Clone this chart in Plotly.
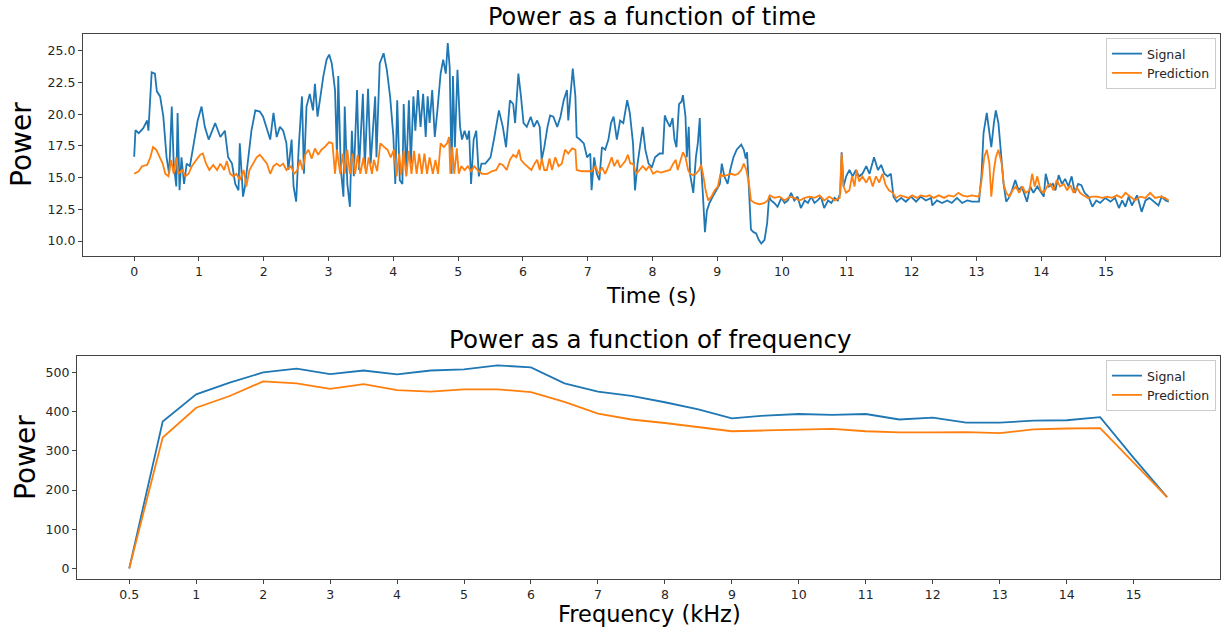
import plotly.graph_objects as go

# ---------------- data: power vs time ----------------
signal_time = [0.00,0.02,0.07,0.14,0.20,0.22,0.27,0.32,0.35,0.40,0.45,0.50,0.54,0.58,0.61,0.65,0.67,0.70,0.73,0.77,
    0.81,0.86,0.92,0.98,1.04,1.09,1.15,1.25,1.33,1.40,1.45,1.51,1.56,1.61,1.63,1.68,1.71,1.76,1.81,1.87,
    1.94,1.99,2.05,2.10,2.15,2.20,2.25,2.30,2.35,2.38,2.43,2.46,2.50,2.54,2.59,2.62,2.66,2.71,2.76,2.79,
    2.83,2.87,2.92,2.97,3.01,3.05,3.10,3.13,3.15,3.19,3.23,3.25,3.29,3.33,3.36,3.39,3.44,3.47,3.53,3.56,
    3.61,3.65,3.72,3.74,3.79,3.85,3.90,3.95,4.00,4.03,4.06,4.10,4.14,4.16,4.20,4.24,4.27,4.31,4.34,4.38,
    4.42,4.46,4.50,4.53,4.56,4.60,4.64,4.68,4.73,4.77,4.81,4.84,4.87,4.90,4.92,4.95,4.99,5.03,5.06,5.10,
    5.14,5.17,5.20,5.24,5.28,5.32,5.36,5.42,5.50,5.56,5.63,5.69,5.74,5.80,5.85,5.88,5.93,5.97,6.01,6.06,
    6.12,6.17,6.22,6.26,6.29,6.33,6.38,6.42,6.47,6.53,6.58,6.63,6.68,6.70,6.74,6.77,6.81,6.83,6.88,6.94,
    6.99,7.04,7.06,7.10,7.14,7.18,7.22,7.27,7.32,7.36,7.40,7.45,7.50,7.55,7.61,7.65,7.70,7.73,7.77,7.81,
    7.85,7.89,7.94,7.99,8.04,8.11,8.16,8.19,8.22,8.27,8.31,8.34,8.37,8.41,8.45,8.47,8.51,8.53,8.56,8.58,
    8.61,8.63,8.67,8.70,8.73,8.75,8.78,8.81,8.84,8.88,8.93,8.98,9.04,9.07,9.11,9.16,9.20,9.25,9.30,9.37,
    9.41,9.44,9.46,9.49,9.52,9.56,9.60,9.64,9.68,9.73,9.77,9.80,9.83,9.88,9.93,9.99,10.04,10.09,10.14,10.19,
    10.24,10.29,10.35,10.40,10.45,10.50,10.55,10.60,10.65,10.71,10.76,10.81,10.86,10.90,10.92,10.95,10.99,11.04,11.09,11.14,
    11.19,11.24,11.30,11.35,11.42,11.48,11.53,11.58,11.63,11.68,11.72,11.77,11.84,11.91,11.99,12.07,12.14,12.22,12.30,12.32,
    12.39,12.47,12.55,12.62,12.70,12.78,12.86,12.93,13.04,13.08,13.11,13.16,13.20,13.23,13.27,13.30,13.34,13.39,13.42,13.46,
    13.50,13.55,13.60,13.65,13.70,13.78,13.83,13.88,13.94,13.99,14.04,14.07,14.12,14.18,14.22,14.27,14.32,14.37,14.42,14.47,
    14.52,14.57,14.62,14.67,14.73,14.79,14.85,14.91,14.99,15.07,15.14,15.20,15.25,15.30,15.35,15.40,15.48,15.55,15.61,15.67,
    15.74,15.81,15.86,15.92,15.97]
signal_power = [16.65,18.75,18.5,18.9,19.5,18.7,23.3,23.2,21.8,21.4,19.8,16.6,15.3,20.6,16.1,14.3,20.1,14.0,16.6,14.5,
    16.1,15.9,17.7,19.5,20.6,19.0,18.0,19.3,18.2,18.7,16.6,16.1,14.5,14.0,17.7,13.5,14.3,16.6,18.7,20.3,
    20.2,19.8,18.7,18.0,20.1,18.2,19.0,18.7,17.7,15.6,18.0,14.3,13.1,17.4,21.4,15.3,20.6,21.6,20.3,22.4,
    19.8,21.4,23.0,24.3,24.7,24.0,21.9,16.6,23.0,15.6,13.5,20.6,14.5,12.7,18.7,15.1,21.9,15.6,21.6,15.8,
    22.0,16.1,21.4,16.6,24.0,24.8,23.5,21.4,18.3,14.5,21.1,14.8,14.5,20.8,15.3,21.1,16.1,21.4,18.7,21.9,
    19.0,21.6,18.2,21.4,19.3,21.9,18.2,20.3,23.2,24.3,23.2,25.6,23.7,15.3,23.0,17.4,23.5,19.0,18.0,18.7,
    18.0,18.7,14.5,18.0,18.7,15.1,16.1,16.1,16.6,18.2,20.3,19.0,17.4,21.1,20.8,19.3,23.2,21.4,19.3,19.0,
    19.8,19.0,19.5,19.0,16.4,17.4,19.0,19.9,19.8,19.0,19.8,21.1,21.9,19.5,21.9,23.6,21.4,18.2,18.0,17.7,
    16.6,16.9,14.0,16.6,15.3,14.8,17.4,17.2,18.0,19.3,19.8,18.0,19.5,19.3,21.1,20.1,17.7,14.0,16.1,17.7,
    19.0,17.2,16.1,15.8,16.6,16.9,16.9,19.9,19.5,19.0,19.7,18.0,17.4,20.8,21.0,21.5,19.8,16.6,19.0,15.3,
    14.5,13.8,16.6,17.7,19.7,16.1,13.5,10.7,12.4,13.0,13.5,14.0,14.5,16.1,15.1,14.5,15.6,16.6,17.2,17.6,
    17.2,16.5,17.0,14.0,10.9,10.7,10.6,10.1,9.8,10.1,11.4,13.5,13.2,13.0,12.7,13.4,13.0,13.2,13.8,13.2,
    13.5,12.6,13.2,13.0,13.5,13.0,13.2,13.5,12.6,13.2,13.0,13.4,13.2,13.8,17.0,14.3,15.1,15.6,15.1,15.6,
    15.1,15.3,15.9,15.3,16.6,15.6,16.0,15.3,15.1,15.3,13.5,13.1,13.4,13.1,13.5,13.1,13.5,13.2,13.4,12.8,
    13.2,13.0,13.2,13.0,13.4,13.0,13.2,13.1,13.1,15.3,18.5,20.1,18.7,17.4,19.3,20.3,19.3,16.6,14.5,13.1,
    13.4,14.0,14.8,14.0,14.3,13.1,14.3,13.8,14.3,13.9,13.5,15.3,14.3,14.5,14.0,15.2,14.5,14.9,14.3,15.1,
    13.8,14.5,14.4,13.8,13.5,12.7,13.2,13.0,13.4,13.1,13.4,12.6,13.2,12.7,13.5,12.8,13.6,12.3,13.2,13.4,
    13.1,12.8,13.5,13.2,13.1]

pred_time = [0.00,0.07,0.12,0.20,0.25,0.29,0.34,0.39,0.44,0.48,0.53,0.57,0.61,0.65,0.68,0.74,0.79,0.84,0.89,0.96,
    1.02,1.06,1.11,1.16,1.22,1.28,1.33,1.39,1.43,1.48,1.53,1.58,1.63,1.69,1.73,1.78,1.83,1.89,1.94,2.00,
    2.05,2.10,2.15,2.20,2.25,2.30,2.35,2.42,2.47,2.52,2.56,2.60,2.64,2.69,2.74,2.79,2.84,2.89,2.94,3.01,
    3.06,3.10,3.13,3.18,3.22,3.25,3.29,3.33,3.37,3.41,3.45,3.49,3.54,3.58,3.62,3.67,3.70,3.75,3.80,3.86,
    3.91,3.96,4.01,4.05,4.09,4.12,4.16,4.20,4.24,4.28,4.32,4.36,4.40,4.44,4.48,4.52,4.56,4.61,4.65,4.69,
    4.73,4.78,4.83,4.86,4.88,4.91,4.94,4.98,5.01,5.05,5.10,5.15,5.20,5.25,5.30,5.37,5.45,5.52,5.59,5.64,
    5.69,5.75,5.80,5.85,5.90,5.94,5.97,6.02,6.07,6.13,6.18,6.22,6.26,6.29,6.33,6.37,6.41,6.45,6.50,6.55,
    6.60,6.65,6.70,6.76,6.81,6.83,6.91,6.99,7.06,7.12,7.17,7.22,7.27,7.32,7.37,7.41,7.46,7.50,7.54,7.58,
    7.62,7.66,7.70,7.75,7.80,7.85,7.90,7.95,8.01,8.07,8.13,8.19,8.27,8.32,8.36,8.39,8.43,8.47,8.51,8.55,
    8.58,8.62,8.67,8.72,8.75,8.78,8.82,8.86,8.91,8.96,9.01,9.05,9.09,9.14,9.22,9.27,9.32,9.37,9.41,9.45,
    9.49,9.52,9.58,9.65,9.73,9.78,9.81,9.88,9.96,10.04,10.12,10.19,10.27,10.35,10.42,10.50,10.58,10.65,10.73,10.81,
    10.89,10.92,10.95,10.99,11.04,11.08,11.12,11.15,11.19,11.24,11.30,11.35,11.40,11.45,11.50,11.55,11.60,11.65,11.71,11.76,
    11.82,11.89,11.95,12.01,12.08,12.14,12.22,12.28,12.34,12.42,12.50,12.57,12.65,12.72,12.78,12.86,12.93,13.04,13.08,13.12,
    13.16,13.20,13.23,13.27,13.30,13.34,13.39,13.42,13.46,13.51,13.56,13.61,13.66,13.71,13.76,13.82,13.86,13.90,13.94,13.99,
    14.04,14.09,14.14,14.19,14.24,14.29,14.35,14.40,14.45,14.50,14.55,14.60,14.65,14.72,14.78,14.86,14.94,15.02,15.09,15.17,
    15.24,15.30,15.37,15.45,15.53,15.61,15.68,15.76,15.84,15.91,15.97]
pred_power = [15.3,15.5,15.9,16.0,16.6,17.4,17.2,16.6,16.1,15.3,15.1,16.4,15.3,16.6,15.3,15.6,15.1,15.3,15.9,16.4,
    16.8,16.9,16.1,15.6,16.0,15.6,16.1,15.6,16.3,15.3,15.1,15.3,14.8,15.6,14.3,15.6,16.1,16.6,16.8,16.4,
    16.1,15.3,15.9,16.1,15.9,16.1,15.6,15.9,15.3,15.6,16.4,15.6,16.8,17.2,16.5,17.3,16.8,17.2,17.4,17.8,
    17.7,15.3,17.2,15.3,16.9,15.3,17.2,15.3,16.9,15.3,16.8,15.3,16.6,15.3,16.6,15.3,16.4,15.5,17.7,17.4,
    17.2,16.6,17.2,15.1,16.9,15.2,17.1,15.1,17.1,15.3,17.1,15.3,16.9,15.3,16.9,15.3,16.6,15.3,16.4,15.3,
    17.7,17.4,17.7,18.2,15.3,17.4,15.3,17.3,15.3,15.9,15.6,15.9,15.5,15.9,15.6,15.3,15.3,15.5,15.6,16.1,
    16.0,15.6,16.4,16.8,16.6,17.2,16.4,16.1,15.9,15.6,16.1,16.4,15.6,16.5,15.6,15.6,16.5,15.6,16.6,15.9,
    16.1,17.2,16.9,17.3,17.2,15.6,15.5,15.5,15.5,15.9,15.3,15.8,15.3,15.9,16.6,15.9,16.4,15.8,16.1,16.3,
    16.8,16.1,16.1,15.3,15.6,15.9,15.6,15.9,15.3,15.5,15.4,15.5,15.6,16.1,16.4,15.6,16.3,17.0,16.6,15.6,
    15.3,15.2,15.3,15.6,16.0,15.3,14.0,13.2,13.5,14.0,14.3,15.3,15.1,15.2,15.3,15.2,15.3,15.6,16.1,15.6,
    14.5,13.2,13.0,12.9,13.0,13.2,13.6,13.4,13.5,13.2,13.5,13.4,13.2,13.4,13.5,13.4,13.6,13.2,13.5,13.2,
    13.4,16.9,14.3,13.8,14.0,15.1,14.3,15.6,14.7,15.1,14.6,15.1,14.3,15.1,14.6,15.3,14.4,14.0,13.8,13.4,
    13.6,13.5,13.4,13.6,13.4,13.6,13.5,13.6,13.4,13.6,13.4,13.6,13.5,13.8,13.6,13.5,13.6,13.5,14.8,16.6,
    17.2,16.1,13.5,15.6,16.6,17.2,16.1,14.5,13.8,13.5,14.0,14.3,13.8,14.3,13.8,14.0,15.3,14.3,15.1,14.0,
    13.8,14.3,14.5,14.0,14.8,14.3,14.5,14.0,14.4,13.8,14.2,13.8,13.6,13.4,13.5,13.5,13.4,13.5,13.4,13.6,
    13.4,13.8,13.5,13.2,13.5,13.4,13.8,13.4,13.5,13.4,13.2]

time_ticks = list(range(0, 16))
power_time_ticks = [10.0, 12.5, 15.0, 17.5, 20.0, 22.5, 25.0]

# ---------------- data: power vs frequency ----------------
freq_signal = [0, 375, 444, 474, 500, 510, 496, 505, 495, 505, 508, 518, 513, 472, 451, 440,
               424, 406, 383, 390, 394, 392, 394, 380, 385, 372, 372, 377, 378, 386, 282, 182]
freq_pred = [0, 334, 410, 440, 477, 472, 458, 470, 455, 451, 457, 457, 450, 425, 395, 380,
             371, 360, 350, 352, 354, 356, 350, 347, 347, 348, 345, 355, 357, 358, 270, 182]
freq_tick_labels = ["0.5", "1", "2", "3", "4", "5", "6", "7", "8", "9", "10",
                    "11", "12", "13", "14", "15"]
power_freq_ticks = [0, 100, 200, 300, 400, 500]

# ---------------- figure ----------------
W, H = 1225, 634
BLUE, ORANGE = "#1f77b4", "#ff7f0e"
FONT = "DejaVu Sans"
TXT = "#262626"

freq_idx = list(range(len(freq_signal)))
freq_tick_idx = [0] + [2 * k for k in range(1, len(freq_tick_labels))]

fig = go.Figure()
fig.add_trace(go.Scatter(x=signal_time, y=signal_power, mode="lines", name="Signal",
                         line=dict(color=BLUE, width=1.8), xaxis="x", yaxis="y", legend="legend"))
fig.add_trace(go.Scatter(x=pred_time, y=pred_power, mode="lines", name="Prediction",
                         line=dict(color=ORANGE, width=1.8), xaxis="x", yaxis="y", legend="legend"))
fig.add_trace(go.Scatter(x=freq_idx, y=freq_signal, mode="lines", name="Signal",
                         line=dict(color=BLUE, width=1.8), xaxis="x2", yaxis="y2", legend="legend2"))
fig.add_trace(go.Scatter(x=freq_idx, y=freq_pred, mode="lines", name="Prediction",
                         line=dict(color=ORANGE, width=1.8), xaxis="x2", yaxis="y2", legend="legend2"))

axis_common = dict(showline=True, linecolor="#444", linewidth=1.2, mirror=True,
                   ticks="outside", ticklen=4, tickwidth=1, tickcolor="#444",
                   showgrid=False, zeroline=False,
                   tickfont=dict(family=FONT, size=12.5, color=TXT))

legend_common = dict(bgcolor="rgba(255,255,255,0.9)", bordercolor="#cccccc", borderwidth=1,
                     font=dict(family=FONT, size=12.5, color=TXT), itemwidth=30,
                     xanchor="right", yanchor="top", tracegroupgap=0)

fig.update_layout(
    width=W, height=H,
    margin=dict(l=0, r=0, t=0, b=0),
    paper_bgcolor="white", plot_bgcolor="white",
    showlegend=True,
    xaxis=dict(domain=[83 / W, 1220 / W], anchor="y", range=[-0.79, 16.76],
               tickmode="array", tickvals=time_ticks, **axis_common),
    yaxis=dict(domain=[1 - 256 / H, 1 - 34 / H], anchor="x", range=[8.82, 26.32],
               tickmode="array", tickvals=power_time_ticks, tickformat=".1f", **axis_common),
    xaxis2=dict(domain=[77 / W, 1220 / W], anchor="y2", range=[-1.56, 32.58],
                tickmode="array", tickvals=freq_tick_idx, ticktext=freq_tick_labels, **axis_common),
    yaxis2=dict(domain=[1 - 579 / H, 1 - 356 / H], anchor="x2", range=[-27, 542],
                tickmode="array", tickvals=power_freq_ticks, **axis_common),
    legend=dict(x=1216 / W, y=1 - 38 / H, **legend_common),
    legend2=dict(x=1216 / W, y=1 - 360 / H, **legend_common),
)

def label(text, x, y, size, angle=0):
    fig.add_annotation(text=text, x=x / W, y=1 - y / H, xref="paper", yref="paper",
                       showarrow=False, textangle=angle, xanchor="center", yanchor="middle",
                       font=dict(family=FONT, size=size, color="black"))

label("Power as a function of time", 652, 17, 24)
label("Time (s)", 651, 295, 22)
label("Power", 21, 145, 28, -90)
label("Power as a function of frequency", 650, 339, 24.5)
label("Frequency (kHz)", 649, 614, 22.5)
label("Power", 25, 457, 28, -90)

fig.write_html("out.html")
